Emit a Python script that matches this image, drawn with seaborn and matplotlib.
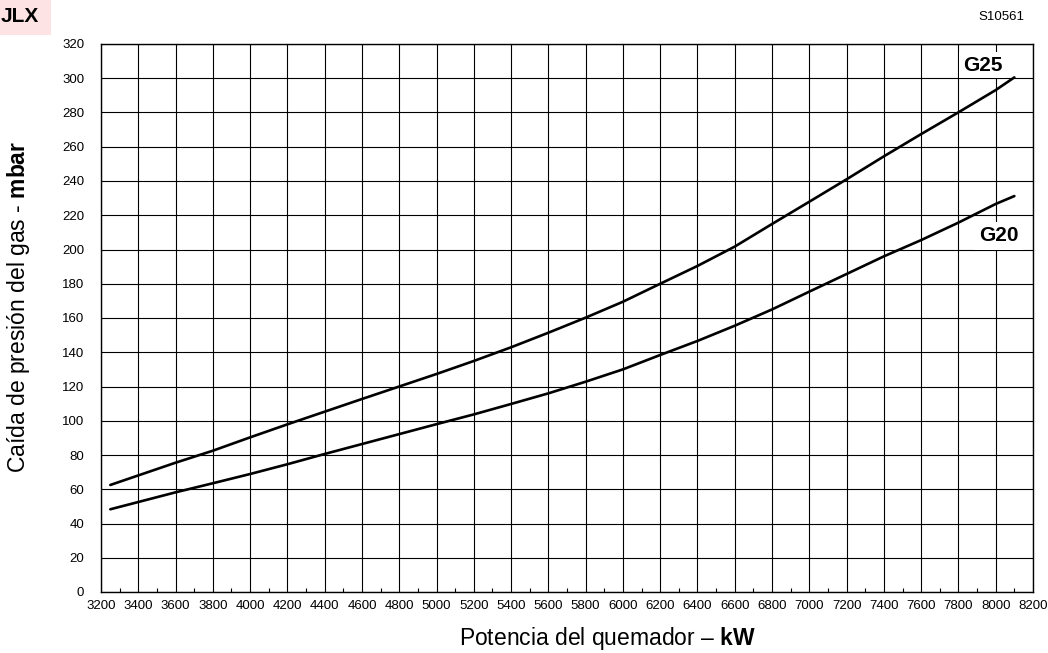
import matplotlib
matplotlib.use("Agg")
import matplotlib.pyplot as plt
import seaborn as sns
import pandas as pd
import numpy as np
from matplotlib.ticker import MultipleLocator
from matplotlib.patches import Rectangle

# ---- data ----
power_kw = [3250, 3600, 3800, 4000, 4200, 4400, 4600, 4800, 5000, 5200, 5400, 5600,
            5800, 6000, 6200, 6400, 6600, 6800, 7000, 7200, 7400, 7600, 7800, 8000, 8100]
g25_mbar = [62.5, 75.5, 82.5, 90.3, 97.9, 105.3, 112.7, 120.0, 127.3, 134.9, 142.9, 151.4,
            160.2, 169.5, 180.0, 190.4, 201.7, 214.9, 227.9, 241.0, 254.4, 267.4, 280.1, 293.1, 300.5]
g20_mbar = [48.3, 58.2, 63.5, 68.9, 74.6, 80.6, 86.4, 92.2, 98.0, 103.7, 109.8, 116.0,
            122.8, 130.0, 138.4, 146.6, 155.5, 165.0, 175.4, 185.7, 196.0, 205.5, 215.7, 226.6, 231.2]
series_names = ["G25", "G20"]
label_pos_kw = [7930, 8015]
label_pos_mbar = [307.6, 207.9]
x_ticks = list(range(3200, 8201, 200))
y_ticks = list(range(0, 321, 20))

sns.set_style("white")
plt.rcParams['font.family'] = ['Liberation Sans', 'DejaVu Sans']
plt.rcParams['mathtext.fontset'] = 'custom'
plt.rcParams['mathtext.rm'] = 'Liberation Sans'
plt.rcParams['mathtext.bf'] = 'Liberation Sans:bold'
plt.rcParams['text.color'] = 'black'
plt.rcParams['axes.labelcolor'] = 'black'
plt.rcParams['xtick.color'] = 'black'
plt.rcParams['ytick.color'] = 'black'

df = pd.DataFrame({
    "power": power_kw * 2,
    "mbar": g25_mbar + g20_mbar,
    "gas": [series_names[0]] * len(power_kw) + [series_names[1]] * len(power_kw),
})

fig = plt.figure(figsize=(10.48, 6.53), dpi=100)
ax = fig.add_axes([101/1048, 1 - 592/653, (1033-101)/1048, (592-44)/653])

sns.lineplot(data=df, x="power", y="mbar", units="gas", estimator=None,
             color="black", linewidth=1.9, ax=ax, zorder=3, sort=False)

ax.set_xlim(3200, 8200)
ax.set_ylim(0, 320)
ax.set_xticks(x_ticks)
ax.set_yticks(y_ticks)
ax.xaxis.set_minor_locator(MultipleLocator(100))
ax.grid(True, which='major', color='black', linewidth=0.8)
ax.tick_params(axis='both', which='major', length=0, labelsize=9.5, colors='black')
ax.tick_params(axis='x', which='major', pad=6)
ax.tick_params(axis='y', which='major', pad=12)
ax.tick_params(axis='x', which='minor', direction='in', length=3, width=0.8, bottom=True, color='black')
for s in ax.spines.values():
    s.set_color('black')
    s.set_linewidth(1.0)

ax.set_xlabel("")
ax.set_ylabel("")
fig.text(607/1048, 1 - 639/653, r"Potencia del quemador – $\mathbf{kW}$",
         ha='center', va='center', fontsize=16.5)
fig.text(19/1048, 1 - 307/653, r"Caída de presión del gas - $\mathbf{mbar}$",
         ha='center', va='center', rotation=90, fontsize=16.5)

pads = [2.5, 3.5]
for name, xk, ym, pd_ in zip(series_names, label_pos_kw, label_pos_mbar, pads):
    ax.text(xk, ym, name, ha='center', va='center', fontsize=15,
            fontweight='bold', zorder=4,
            bbox=dict(facecolor='white', edgecolor='none', pad=pd_))

# top-left tag and drawing code
fig.patches.append(Rectangle((0, 1 - 35/653), 51/1048, 35/653, transform=fig.transFigure,
                             facecolor='#fde3e4', edgecolor='none', zorder=0))
fig.text(1/1048, 1 - 17/653, "JLX", ha='left', va='center', fontsize=15, fontweight='bold')
fig.text(1024/1048, 1 - 17/653, "S10561", ha='right', va='center', fontsize=9.5)

fig.savefig("out.png", dpi=100)
